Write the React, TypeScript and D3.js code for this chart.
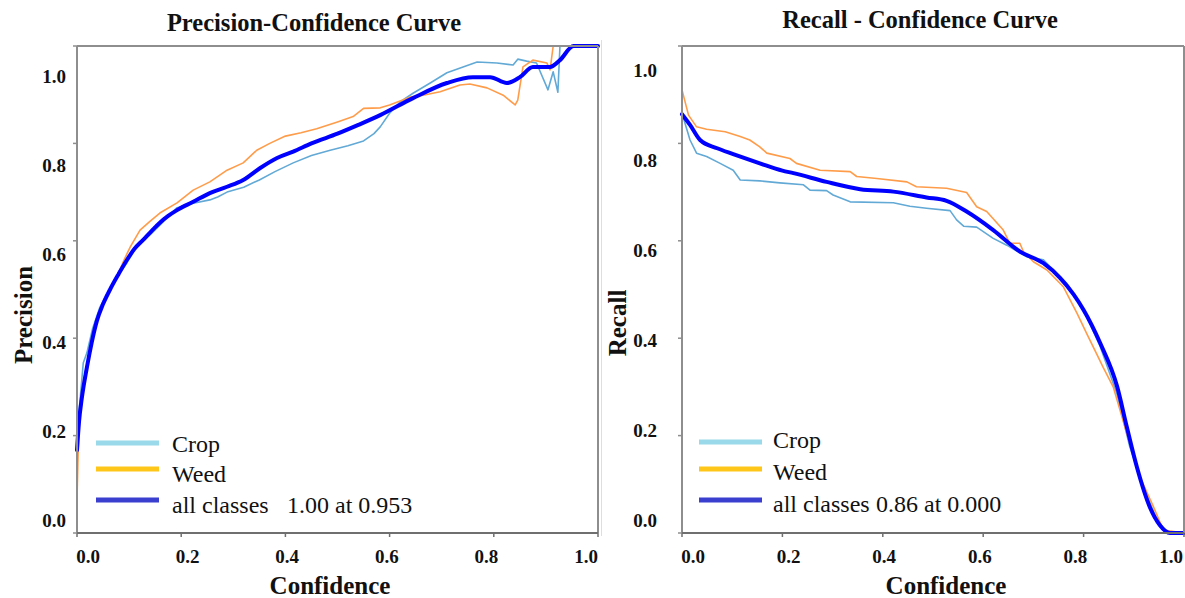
import React from "react";
import * as d3 from "d3";

// ---- data: [confidence, value] pairs ----
const precisionCrop: [number, number][] = [
  [0, 0.14], [0.004, 0.25], [0.012, 0.349], [0.019, 0.37], [0.03, 0.42], [0.044, 0.464], [0.063, 0.5],
  [0.08, 0.53], [0.096, 0.555], [0.115, 0.59], [0.127, 0.6], [0.14, 0.612], [0.159, 0.632], [0.175, 0.65],
  [0.192, 0.668], [0.21, 0.673], [0.223, 0.677], [0.255, 0.684], [0.27, 0.69], [0.288, 0.7], [0.32, 0.71],
  [0.35, 0.725], [0.38, 0.742], [0.415, 0.76], [0.45, 0.775], [0.486, 0.786], [0.52, 0.795], [0.55, 0.805],
  [0.57, 0.82], [0.582, 0.834], [0.6, 0.862], [0.62, 0.885], [0.645, 0.903], [0.678, 0.924], [0.71, 0.945],
  [0.741, 0.957], [0.768, 0.967], [0.806, 0.965], [0.837, 0.961], [0.846, 0.973], [0.863, 0.969],
  [0.882, 0.965], [0.904, 0.91], [0.914, 0.947], [0.923, 0.905], [0.927, 1.0], [1.0, 1.0],
];
const precisionWeed: [number, number][] = [
  [0, 0.07], [0.003, 0.2], [0.01, 0.3], [0.019, 0.345], [0.03, 0.41], [0.045, 0.46], [0.063, 0.5],
  [0.08, 0.535], [0.09, 0.56], [0.102, 0.587], [0.121, 0.622], [0.14, 0.64], [0.159, 0.657],
  [0.192, 0.678], [0.223, 0.704], [0.255, 0.721], [0.288, 0.745], [0.319, 0.76], [0.345, 0.786],
  [0.37, 0.8], [0.4, 0.815], [0.43, 0.822], [0.46, 0.83], [0.5, 0.844], [0.53, 0.855], [0.55, 0.872],
  [0.582, 0.873], [0.6, 0.879], [0.639, 0.895], [0.664, 0.899], [0.697, 0.906], [0.735, 0.92],
  [0.754, 0.922], [0.787, 0.914], [0.818, 0.899], [0.841, 0.879], [0.846, 0.889], [0.856, 0.957],
  [0.875, 0.971], [0.902, 0.965], [0.908, 0.951], [0.914, 1.0], [1.0, 1.0],
];
const precisionAll: [number, number][] = [
  [0, 0.17], [0.004, 0.23], [0.009, 0.275], [0.019, 0.34], [0.028, 0.39], [0.038, 0.435], [0.05, 0.47],
  [0.063, 0.499], [0.08, 0.532], [0.096, 0.561], [0.11, 0.583], [0.127, 0.602], [0.143, 0.62],
  [0.159, 0.637], [0.175, 0.651], [0.192, 0.663], [0.223, 0.68], [0.255, 0.698], [0.288, 0.711],
  [0.319, 0.725], [0.351, 0.749], [0.384, 0.77], [0.415, 0.783], [0.45, 0.8], [0.5, 0.82], [0.54, 0.838],
  [0.582, 0.858], [0.645, 0.893], [0.71, 0.924], [0.76, 0.936], [0.793, 0.936], [0.825, 0.924],
  [0.85, 0.936], [0.875, 0.957], [0.895, 0.957], [0.908, 0.957], [0.927, 0.971], [0.953, 1.0], [1.0, 1.0],
];

const recallCrop: [number, number][] = [
  [0, 0.862], [0.016, 0.807], [0.029, 0.78], [0.049, 0.773], [0.076, 0.759], [0.102, 0.745],
  [0.116, 0.725], [0.155, 0.723], [0.195, 0.719], [0.242, 0.715], [0.255, 0.704], [0.288, 0.703],
  [0.301, 0.694], [0.335, 0.68], [0.421, 0.678], [0.454, 0.671], [0.487, 0.667], [0.534, 0.662],
  [0.547, 0.643], [0.561, 0.63], [0.587, 0.628], [0.62, 0.605], [0.647, 0.591], [0.687, 0.567],
  [0.72, 0.561], [0.733, 0.547], [0.766, 0.513], [0.8, 0.458], [0.833, 0.383], [0.866, 0.287],
  [0.892, 0.177], [0.919, 0.095], [0.946, 0.027], [0.965, 0.003], [1.0, 0.0],
];
const recallWeed: [number, number][] = [
  [0, 0.91], [0.013, 0.858], [0.029, 0.834], [0.049, 0.829], [0.086, 0.824], [0.116, 0.814],
  [0.135, 0.807], [0.155, 0.793], [0.169, 0.78], [0.215, 0.769], [0.228, 0.759], [0.275, 0.745],
  [0.335, 0.742], [0.348, 0.732], [0.388, 0.728], [0.448, 0.721], [0.467, 0.711], [0.527, 0.708],
  [0.567, 0.699], [0.587, 0.67], [0.607, 0.66], [0.64, 0.622], [0.653, 0.595], [0.673, 0.595],
  [0.68, 0.578], [0.7, 0.557], [0.727, 0.54], [0.76, 0.505], [0.787, 0.451], [0.806, 0.41],
  [0.825, 0.37], [0.839, 0.34], [0.859, 0.3], [0.886, 0.205], [0.912, 0.116], [0.939, 0.054],
  [0.959, 0.006], [1.0, 0.0],
];
const recallAll: [number, number][] = [
  [0, 0.86], [0.016, 0.838], [0.036, 0.807], [0.07, 0.79], [0.102, 0.778], [0.135, 0.766],
  [0.155, 0.759], [0.2, 0.744], [0.222, 0.739], [0.288, 0.721], [0.355, 0.706], [0.421, 0.701],
  [0.487, 0.689], [0.527, 0.682], [0.567, 0.66], [0.62, 0.622], [0.673, 0.578], [0.72, 0.554],
  [0.753, 0.524], [0.78, 0.49], [0.8, 0.458], [0.833, 0.39], [0.867, 0.3], [0.886, 0.218],
  [0.906, 0.136], [0.932, 0.053], [0.952, 0.016], [0.972, 0.0], [1.0, 0.0],
];

const tickValues = [0, 0.2, 0.4, 0.6, 0.8, 1.0];
const legendNames = ["Crop", "Weed", "all classes"];
const precisionBest = "1.00 at 0.953";
const recallBest = "0.86 at 0.000";

const SERIF = "'Liberation Serif', 'Times New Roman', serif";
const curveColors = { crop: "#62a9d6", weed: "#ff9c4a", all: "#0000ff" };
const legendColors = ["#9ad9ea", "#ffc61a", "#3a3fd0"];

type PanelProps = {
  title: string;
  titleX: number;
  titleY: number;
  yLabel: string;
  yLabelX: number;
  yLabelY: number;
  xLabelX: number;
  x0: number;
  x1: number;
  crop: [number, number][];
  weed: [number, number][];
  all: [number, number][];
  xTickLabelRange: [number, number];
  yTickLabelRange: [number, number];
  yTickLabelRight: number;
  legendLineX: number;
  legendTextX: number;
  legendLineYs: number[];
  legendTextYs: number[];
  bestText: string;
  bestX: number;
};

const TOP = 46;
const BOTTOM = 533;

function Panel(p: PanelProps) {
  const x = d3.scaleLinear().domain([0, 1]).range([p.x0, p.x1]);
  const y = d3.scaleLinear().domain([0, 1]).range([BOTTOM, TOP]);
  // tick labels sit slightly inset from their tick marks
  const xl = d3.scaleLinear().domain([0, 1]).range(p.xTickLabelRange);
  const yl = d3.scaleLinear().domain([0, 1]).range(p.yTickLabelRange);
  const line = d3
    .line<[number, number]>()
    .x((d) => x(d[0]))
    .y((d) => y(d[1]));
  const smooth = d3
    .line<[number, number]>()
    .x((d) => x(d[0]))
    .y((d) => y(d[1]))
    .curve(d3.curveMonotoneX);
  const frame = "#8e8e8e";
  return (
    <g>
      <text
        x={p.titleX}
        y={p.titleY}
        textAnchor="middle"
        fontFamily={SERIF}
        fontWeight="bold"
        fontSize={24.5}
        fill="#111"
      >
        {p.title}
      </text>

      {/* curves */}
      <path d={line(p.crop) ?? ""} fill="none" stroke={curveColors.crop} strokeWidth={1.6} strokeLinejoin="round" />
      <path d={line(p.weed) ?? ""} fill="none" stroke={curveColors.weed} strokeWidth={1.6} strokeLinejoin="round" />
      <path d={smooth(p.all) ?? ""} fill="none" stroke={curveColors.all} strokeWidth={4} strokeLinejoin="round" strokeLinecap="round" />

      {/* frame */}
      <line x1={x(0)} x2={x(1)} y1={TOP} y2={TOP} stroke={frame} strokeWidth={2} />
      <line x1={x(1)} x2={x(1)} y1={TOP} y2={BOTTOM} stroke={frame} strokeWidth={2} />
      <line x1={x(0)} x2={x(0)} y1={TOP} y2={BOTTOM + 1} stroke={frame} strokeWidth={2} />
      <line x1={x(0)} x2={x(1)} y1={BOTTOM} y2={BOTTOM} stroke="#6f6f6f" strokeWidth={2} />

      {/* ticks */}
      {tickValues.map((t) => (
        <g key={"x" + t}>
          <line x1={x(t)} x2={x(t)} y1={BOTTOM} y2={BOTTOM + 4} stroke="#6f6f6f" strokeWidth={1.5} />
          <text
            x={xl(t)}
            y={563}
            textAnchor="middle"
            fontFamily={SERIF}
            fontWeight="bold"
            fontSize={19}
            fill="#111"
          >
            {t.toFixed(1)}
          </text>
        </g>
      ))}
      {tickValues.map((t) => (
        <g key={"y" + t}>
          <line x1={x(0) - 4} x2={x(0)} y1={y(t)} y2={y(t)} stroke={frame} strokeWidth={1.5} />
          <text
            x={p.yTickLabelRight}
            y={yl(t)}
            dy="0.35em"
            textAnchor="end"
            fontFamily={SERIF}
            fontWeight="bold"
            fontSize={19}
            fill="#111"
          >
            {t.toFixed(1)}
          </text>
        </g>
      ))}

      {/* axis titles */}
      <text
        x={p.xLabelX}
        y={594}
        textAnchor="middle"
        fontFamily={SERIF}
        fontWeight="bold"
        fontSize={25}
        fill="#111"
      >
        Confidence
      </text>
      <text
        transform={`translate(${p.yLabelX},${p.yLabelY}) rotate(-90)`}
        textAnchor="middle"
        fontFamily={SERIF}
        fontWeight="bold"
        fontSize={25}
        fill="#111"
      >
        {p.yLabel}
      </text>

      {/* legend */}
      {legendNames.map((name, i) => (
        <g key={name}>
          <line
            x1={p.legendLineX}
            x2={p.legendLineX + 63}
            y1={p.legendLineYs[i]}
            y2={p.legendLineYs[i]}
            stroke={legendColors[i]}
            strokeWidth={5}
          />
          <text
            x={p.legendTextX}
            y={p.legendTextYs[i]}
            fontFamily={SERIF}
            fontSize={24}
            fill="#111"
          >
            {name}
          </text>
        </g>
      ))}
      <text x={p.bestX} y={p.legendTextYs[2]} fontFamily={SERIF} fontSize={24} fill="#111">
        {p.bestText}
      </text>
    </g>
  );
}

export default function App() {
  return (
    <svg
      width={1185}
      height={598}
      viewBox="0 0 1185 598"
      style={{ position: "absolute", left: 0, top: 0, background: "#fff" }}
    >
      <rect width={1185} height={598} fill="#fff" />
      <line x1={601.5} x2={601.5} y1={40} y2={536} stroke="#dedede" strokeWidth={1} />
      <Panel
        title="Precision-Confidence Curve"
        titleX={314}
        titleY={31}
        yLabel="Precision"
        yLabelX={32}
        yLabelY={315}
        xLabelX={330}
        x0={77}
        x1={598}
        crop={precisionCrop}
        weed={precisionWeed}
        all={precisionAll}
        xTickLabelRange={[88, 586]}
        yTickLabelRange={[520, 76.5]}
        yTickLabelRight={66}
        legendLineX={96}
        legendTextX={172}
        legendLineYs={[443, 469, 500]}
        legendTextYs={[452, 482, 513]}
        bestText={precisionBest}
        bestX={287}
      />
      <Panel
        title="Recall - Confidence Curve"
        titleX={920}
        titleY={28}
        yLabel="Recall"
        yLabelX={626}
        yLabelY={323}
        xLabelX={946}
        x0={682}
        x1={1184}
        crop={recallCrop}
        weed={recallWeed}
        all={recallAll}
        xTickLabelRange={[693, 1171]}
        yTickLabelRange={[520, 70]}
        yTickLabelRight={657}
        legendLineX={699}
        legendTextX={773}
        legendLineYs={[442, 469, 500]}
        legendTextYs={[448, 480, 512]}
        bestText={recallBest}
        bestX={876}
      />
    </svg>
  );
}
